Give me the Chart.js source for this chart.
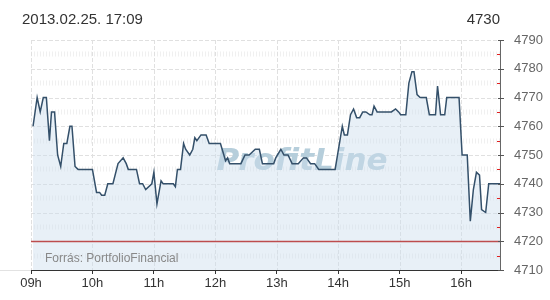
<!DOCTYPE html>
<html>
<head>
<meta charset="utf-8">
<script src="https://cdn.jsdelivr.net/npm/chart.js@4"></script>
<style>
  html, body { margin: 0; padding: 0; background: #fff; }
  #wrap { position: relative; width: 550px; height: 300px; font-family: "Liberation Sans", Arial, sans-serif; }
  #stamp { position: absolute; left: 22px; top: 10px; font-size: 15px; color: #333; }
  #last { position: absolute; right: 50px; top: 10px; font-size: 15px; color: #333; }
  canvas { position: absolute; left: 0; top: 0; }
</style>
</head>
<body>
<div id="wrap">
  <canvas id="chart" width="550" height="300"></canvas>
  <div id="stamp">2013.02.25. 17:09</div>
  <div id="last">4730</div>
</div>
<script>
// intraday quotes
const times = [
  '09:02', '09:06', '09:09', '09:12', '09:15', '09:18', '09:20', '09:23', '09:26', '09:29',
  '09:32', '09:35', '09:38', '09:40', '09:43', '09:46', '10:00', '10:04', '10:07', '10:09',
  '10:12', '10:15', '10:20', '10:25', '10:30', '10:33', '10:35', '10:43', '10:46', '10:49',
  '10:52', '10:58', '11:00', '11:03', '11:07', '11:09', '11:19', '11:21', '11:23', '11:26',
  '11:29', '11:31', '11:35', '11:38', '11:40', '11:42', '11:46', '11:51', '11:54', '12:05',
  '12:10', '12:12', '12:14', '12:25', '12:29', '12:33', '12:39', '12:43', '12:46', '12:57',
  '12:59', '13:04', '13:07', '13:11', '13:15', '13:21', '13:26', '13:29', '13:33', '13:37',
  '13:41', '13:57', '14:04', '14:06', '14:09', '14:12', '14:15', '14:18', '14:21', '14:24',
  '14:27', '14:31', '14:33', '14:35', '14:38', '14:41', '14:46', '14:52', '14:56', '14:59',
  '15:01', '15:06', '15:09', '15:12', '15:14', '15:17', '15:20', '15:26', '15:29', '15:32',
  '15:35', '15:37', '15:40', '15:44', '15:46', '15:58', '16:01', '16:06', '16:09', '16:12',
  '16:15', '16:18', '16:20', '16:24', '16:27', '16:38'
];
const prices = [
  4760, 4770, 4765, 4770, 4770, 4755, 4765, 4765, 4750, 4746,
  4754, 4754, 4760, 4760, 4746, 4745, 4745, 4737, 4737, 4736,
  4736, 4740, 4740, 4747, 4749, 4747, 4745, 4745, 4740, 4740,
  4738, 4740, 4744, 4733, 4741, 4740, 4740, 4739, 4745, 4745,
  4754, 4752, 4750, 4752, 4756, 4755, 4757, 4757, 4754, 4754,
  4748, 4749, 4747, 4747, 4750, 4750, 4752, 4752, 4747, 4747,
  4749, 4752, 4750, 4750, 4747, 4747, 4749, 4749, 4747, 4747,
  4745, 4745, 4760, 4757, 4757, 4764, 4766, 4763, 4763, 4765,
  4765, 4764, 4764, 4767, 4765, 4765, 4765, 4765, 4766, 4765,
  4764, 4764, 4775, 4779, 4779, 4771, 4770, 4770, 4764, 4764,
  4764, 4774, 4764, 4764, 4770, 4770, 4750, 4750, 4727, 4738,
  4744, 4743, 4731, 4730, 4740, 4740
];
const hourLabels = ['09h', '10h', '11h', '12h', '13h', '14h', '15h', '16h'];
const prevClose = 4720;
const sessionStart = '09:00';
const sessionEnd = '16:38';
const yMin = 4710;
const yMax = 4790;

// minutes since the session start
function toMinutes(t) {
  const [h, m] = t.split(':').map(Number);
  const [h0, m0] = sessionStart.split(':').map(Number);
  return (h - h0) * 60 + (m - m0);
}

const points = times.map((t, i) => ({ x: toMinutes(t), y: prices[i] }));

// grid, watermark, source note, reference line
const decorPlugin = {
  id: 'decor',
  beforeDatasetsDraw(chart) {
    const { ctx, chartArea: a, scales } = chart;
    const xs = scales.x, ys = scales.y;
    ctx.save();

    // minor levels (every 5) - hatched light pattern
    ctx.strokeStyle = '#f0f0f0';
    ctx.lineWidth = 5;
    ctx.setLineDash([1, 2]);
    for (let v = yMin + 5; v < yMax; v += 10) {
      const y = Math.round(ys.getPixelForValue(v));
      ctx.beginPath();
      ctx.moveTo(a.left, y);
      ctx.lineTo(a.right, y);
      ctx.stroke();
    }

    // major levels (every 10) - dashed
    ctx.strokeStyle = '#e0e0e0';
    ctx.lineWidth = 1;
    ctx.setLineDash([4, 2]);
    for (let v = yMin + 10; v <= yMax; v += 10) {
      const y = Math.round(ys.getPixelForValue(v)) + 0.5;
      ctx.beginPath();
      ctx.moveTo(a.left, y);
      ctx.lineTo(a.right, y);
      ctx.stroke();
    }
    // hour lines
    for (let i = 0; i < hourLabels.length; i++) {
      const x = Math.round(xs.getPixelForValue(i * 60)) + 0.5;
      ctx.beginPath();
      ctx.moveTo(x, a.top);
      ctx.lineTo(x, a.bottom);
      ctx.stroke();
    }
    ctx.setLineDash([]);

    // watermark
    ctx.font = 'bold italic 31px "DejaVu Sans"';
    ctx.fillStyle = '#b6cedb';
    ctx.textAlign = 'center';
    ctx.textBaseline = 'alphabetic';
    ctx.fillText('ProfitLine', 302, 170);
    ctx.restore();
  },
  afterDatasetsDraw(chart) {
    const { ctx, chartArea: a, scales } = chart;
    const ys = scales.y;
    ctx.save();

    // previous close
    const yc = Math.round(ys.getPixelForValue(prevClose)) + 0.5;
    ctx.strokeStyle = 'rgba(185,60,60,0.9)';
    ctx.lineWidth = 1.6;
    ctx.beginPath();
    ctx.moveTo(a.left, yc);
    ctx.lineTo(a.right, yc);
    ctx.stroke();

    // source note
    ctx.font = '12px "Liberation Sans", Arial, sans-serif';
    ctx.fillStyle = '#888';
    ctx.textAlign = 'left';
    ctx.textBaseline = 'middle';
    ctx.fillText('Forrás: PortfolioFinancial', a.left + 14, 259);

    // right axis ticks: grey on tens, red on fives
    ctx.lineWidth = 1;
    for (let v = yMin; v <= yMax; v += 5) {
      const y = Math.round(ys.getPixelForValue(v)) + 0.5;
      ctx.beginPath();
      if (v % 10 === 0) {
        ctx.strokeStyle = '#555';
        ctx.moveTo(a.right - 2, y);
        ctx.lineTo(a.right + 4, y);
      } else {
        ctx.strokeStyle = '#e02020';
        ctx.moveTo(a.right - 3, y);
        ctx.lineTo(a.right, y);
      }
      ctx.stroke();
    }

    // faint base line left of the plot
    ctx.strokeStyle = '#e2e2e2';
    ctx.beginPath();
    ctx.moveTo(0, a.bottom + 0.5);
    ctx.lineTo(a.left, a.bottom + 0.5);
    ctx.stroke();
    ctx.restore();
  }
};

new Chart(document.getElementById('chart'), {
  type: 'line',
  data: {
    datasets: [{
      data: points,
      borderColor: '#34506a',
      backgroundColor: 'rgba(205,222,238,0.45)',
      borderWidth: 1.5,
      tension: 0,
      pointRadius: 0,
      fill: 'start'
    }]
  },
  options: {
    responsive: false,
    animation: false,
    events: [],
    layout: { padding: { left: 31, top: 40, right: 0, bottom: 0 } },
    plugins: {
      legend: { display: false },
      tooltip: { enabled: false }
    },
    scales: {
      x: {
        type: 'linear',
        min: 0,
        max: toMinutes(sessionEnd),
        afterFit: s => { s.height = 30; },
        afterBuildTicks: s => { s.ticks = hourLabels.map((_, i) => ({ value: i * 60 })); },
        ticks: {
          autoSkip: false,
          maxRotation: 0,
          padding: 2,
          color: '#333',
          font: { family: '"Liberation Sans", Arial, sans-serif', size: 13 },
          callback: (v) => hourLabels[Math.round(v / 60)]
        },
        grid: { drawOnChartArea: false, drawTicks: true, tickLength: 4, tickColor: '#333' },
        border: { color: '#333', width: 1 }
      },
      y: {
        type: 'linear',
        position: 'right',
        min: yMin,
        max: yMax,
        afterFit: s => { s.width = 50; },
        ticks: {
          stepSize: 10,
          padding: 6,
          color: '#666',
          font: { family: '"Liberation Sans", Arial, sans-serif', size: 13 },
          callback: (v) => String(v)
        },
        grid: { display: false },
        border: { color: '#666', width: 1 }
      }
    }
  },
  plugins: [decorPlugin]
});
</script>
</body>
</html>
